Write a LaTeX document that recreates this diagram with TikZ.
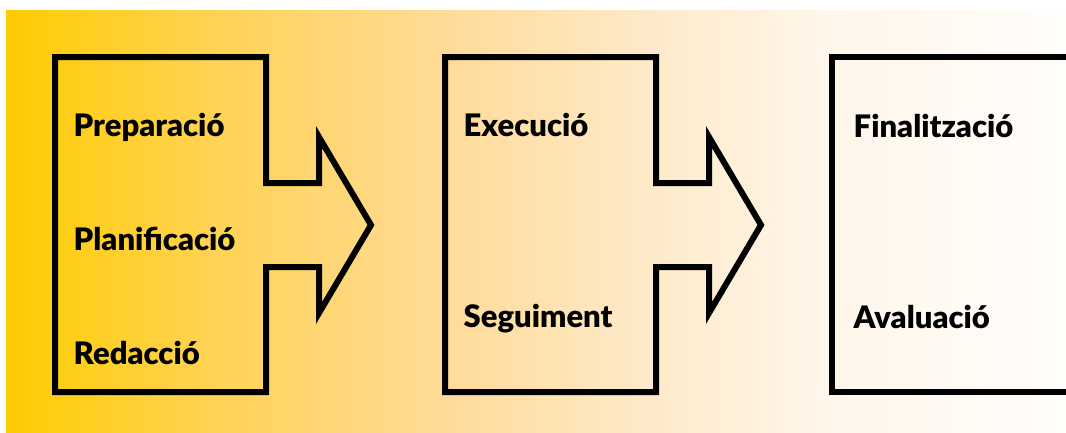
\documentclass[tikz,border=0pt]{standalone}
\usepackage{fontspec}
\setmainfont{Lato}
\newfontfamily\lblfont{Lato Black}
\definecolor{g0}{HTML}{FFCC00}
\definecolor{g1}{HTML}{FFD24F}
\definecolor{g2}{HTML}{FFDB98}
\definecolor{g3}{HTML}{FEEACA}
\definecolor{g4}{HTML}{FFF6EA}
\definecolor{g5}{HTML}{FFFDFB}
\pgfdeclarehorizontalshading{bgshade}{100bp}{color(0bp)=(g0); color(25bp)=(g0); color(34.15bp)=(g1); color(45.7bp)=(g2); color(55.4bp)=(g3); color(63.85bp)=(g4); color(75bp)=(g5); color(100bp)=(g5)}
\tikzset{
  stagebox/.style={draw=black, line width=6pt, miter limit=10, line join=miter},
  lbl/.style={anchor=base west, inner sep=0pt, font=\lblfont\fontsize{31}{34}\selectfont}
}
\begin{document}
\begin{tikzpicture}[x=1pt,y=-1pt]
\useasboundingbox (0,0) rectangle (1066,432);
\fill[shading=bgshade] (6,10) rectangle (1066,432);
% box 1
\draw[stagebox] (55,57) -- (266,57) -- (266,183) -- (319,183) -- (319,137) -- (371,225) -- (319,313) -- (319,267) -- (266,267) -- (266,392) -- (55,392) -- cycle;
% box 2
\draw[stagebox] (445,57) -- (656,57) -- (656,183) -- (709,183) -- (709,137) -- (761,225) -- (709,313) -- (709,267) -- (656,267) -- (656,392) -- (445,392) -- cycle;
% box 3
\draw[stagebox] (1070,57) -- (832,57) -- (832,392) -- (1070,392);
\node[lbl] (prep) at (73.5,136) {Preparació};
\node[lbl] (plan) at (73.5,250) {Planificació};
\node[lbl] (reda) at (73.5,364) {Redacció};
\node[lbl] (exec) at (463.5,136) {Execució};
\node[lbl] (segu) at (463.5,327) {Seguiment};
\node[lbl] (fina) at (853.5,137) {Finalització};
\node[lbl] (aval) at (853.5,328) {Avaluació};
\end{tikzpicture}
\end{document}
